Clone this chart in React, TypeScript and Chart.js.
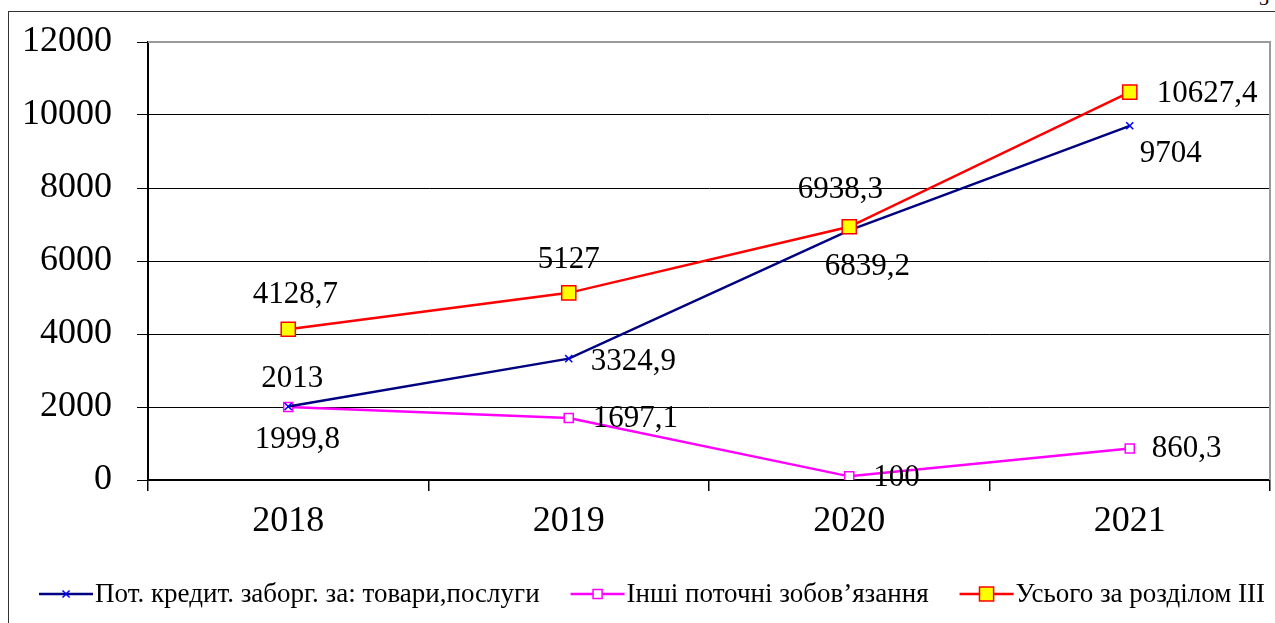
import React, { useEffect, useRef } from 'react';
import { Chart, registerables } from 'chart.js';

Chart.register(...registerables);

const categories = ['2018', '2019', '2020', '2021'];
const tradePayables = [2013, 3324.9, 6839.2, 9704];
const otherLiabilities = [1999.8, 1697.1, 100, 860.3];
const totalSection3 = [4128.7, 5127, 6938.3, 10627.4];
const yMin = 0;
const yMax = 12000;
const yStep = 2000;
const seriesNames = [
  'Пот. кредит. заборг. за: товари,послуги',
  'Інші поточні зобов’язання',
  'Усього за розділом ІІІ',
];

const FONT = "'Liberation Serif', 'Times New Roman', serif";

// label placement: [textAlign, dx, dy] relative to the point
const placeBlue = [['center', 4, -28], ['left', 22, 3], ['center', 18, 36], ['left', 10, 28]];
const placeMagenta = [['center', 9, 33], ['left', 24, 1], ['left', 24, 2], ['left', 22, 0]];
const placeRed = [['center', 7, -34], ['center', 0, -33], ['center', -9, -37], ['left', 27, 2]];

const fmt = (v: number) => String(v).replace('.', ',');

const dataLabelsPlugin = {
  id: 'dataLabels',
  afterDatasetsDraw(chart: any) {
    const ctx = chart.ctx;
    ctx.save();
    ctx.font = `31px ${FONT}`;
    ctx.fillStyle = '#000';
    ctx.textBaseline = 'middle';
    chart.data.datasets.forEach((ds: any, i: number) => {
      const meta = chart.getDatasetMeta(i);
      meta.data.forEach((pt: any, j: number) => {
        const p = ds.labelPlacement[j];
        ctx.textAlign = p[0];
        ctx.fillText(fmt(ds.data[j]), pt.x + p[1], pt.y + p[2]);
      });
    });
    ctx.restore();
  },
};

const framePlugin = {
  id: 'frame',
  beforeDatasetsDraw(chart: any) {
    const { ctx, chartArea } = chart;
    ctx.save();
    ctx.strokeStyle = '#9a9a9a';
    ctx.lineWidth = 2;
    ctx.beginPath();
    ctx.moveTo(chartArea.left, chartArea.top);
    ctx.lineTo(chartArea.right, chartArea.top);
    ctx.lineTo(chartArea.right, chartArea.bottom);
    ctx.stroke();
    ctx.restore();
  },
};

function drawMarker(ctx: CanvasRenderingContext2D, ds: any, x: number, y: number) {
  ctx.save();
  ctx.lineWidth = ds.pointBorderWidth;
  ctx.strokeStyle = ds.pointBorderColor;
  ctx.fillStyle = ds.pointBackgroundColor;
  if (ds.pointStyle === 'crossRot') {
    const o = ds.pointRadius * Math.SQRT1_2;
    ctx.beginPath();
    ctx.moveTo(x - o, y - o);
    ctx.lineTo(x + o, y + o);
    ctx.moveTo(x + o, y - o);
    ctx.lineTo(x - o, y + o);
    ctx.stroke();
  } else {
    const s = ds.pointRadius * Math.SQRT1_2;
    ctx.beginPath();
    ctx.rect(x - s, y - s, 2 * s, 2 * s);
    ctx.fill();
    ctx.stroke();
  }
  ctx.restore();
}

const legendPlugin = {
  id: 'customLegend',
  afterDraw(chart: any) {
    const ctx = chart.ctx;
    ctx.save();
    ctx.font = `27px ${FONT}`;
    ctx.textBaseline = 'middle';
    ctx.textAlign = 'left';
    const lineLen = 54;
    const textGap = 2;
    const itemGap = 31;
    const items = [0, 1, 2].map((k) => {
      const ds = chart.data.datasets.find((d: any) => d.legendIndex === k);
      return { ds, w: ctx.measureText(ds.label).width };
    });
    const total = items.reduce((a: number, it: any) => a + lineLen + textGap + it.w, 0) + itemGap * (items.length - 1);
    let x = 652 - total / 2;
    const y = 594;
    items.forEach((it: any) => {
      ctx.strokeStyle = it.ds.borderColor;
      ctx.lineWidth = it.ds.borderWidth;
      ctx.beginPath();
      ctx.moveTo(x, y);
      ctx.lineTo(x + lineLen, y);
      ctx.stroke();
      drawMarker(ctx, it.ds, x + lineLen / 2, y);
      ctx.font = `27px ${FONT}`;
      ctx.fillStyle = '#000';
      ctx.fillText(it.ds.label, x + lineLen + textGap, y + 1);
      x += lineLen + textGap + it.w + itemGap;
    });
    ctx.restore();
  },
};

export default function App() {
  const canvasRef = useRef<HTMLCanvasElement | null>(null);

  useEffect(() => {
    const canvas = canvasRef.current;
    if (!canvas) return;
    const chart = new Chart(canvas, {
      type: 'line',
      data: {
        labels: categories,
        datasets: [
          {
            label: seriesNames[2],
            legendIndex: 2,
            data: totalSection3,
            borderColor: '#ff0000',
            borderWidth: 2.5,
            pointStyle: 'rect',
            pointRadius: 10,
            pointHoverRadius: 10,
            pointBackgroundColor: '#ffff00',
            pointBorderColor: '#ff0000',
            pointBorderWidth: 1.5,
            tension: 0,
            order: 0,
            labelPlacement: placeRed,
          } as any,
          {
            label: seriesNames[0],
            legendIndex: 0,
            data: tradePayables,
            borderColor: '#000080',
            borderWidth: 2.5,
            pointStyle: 'crossRot',
            pointRadius: 5,
            pointHoverRadius: 5,
            pointBackgroundColor: '#0000ff',
            pointBorderColor: '#0000ff',
            pointBorderWidth: 1.5,
            tension: 0,
            order: 1,
            labelPlacement: placeBlue,
          } as any,
          {
            label: seriesNames[1],
            legendIndex: 1,
            data: otherLiabilities,
            borderColor: '#ff00ff',
            borderWidth: 2.5,
            pointStyle: 'rect',
            pointRadius: 6.4,
            pointHoverRadius: 6.4,
            pointBackgroundColor: '#ffffff',
            pointBorderColor: '#ff00ff',
            pointBorderWidth: 1.5,
            tension: 0,
            order: 2,
            labelPlacement: placeMagenta,
          } as any,
        ],
      },
      options: {
        responsive: false,
        animation: false,
        events: [],
        layout: { autoPadding: false, padding: { top: 42, right: 5, left: 0, bottom: 0 } },
        plugins: {
          legend: { display: false },
          tooltip: { enabled: false },
        },
        scales: {
          x: {
            type: 'category',
            offset: true,
            grid: {
              offset: true,
              drawOnChartArea: false,
              drawTicks: true,
              tickLength: 11,
              color: '#000',
              lineWidth: 1.5,
            },
            border: { display: true, color: '#000', width: 2 },
            ticks: {
              font: { family: FONT, size: 36 },
              color: '#000',
              padding: 9,
              maxRotation: 0,
              autoSkip: false,
            },
            afterFit: (s: any) => {
              s.height = 143;
              s.paddingLeft = 0;
              s.paddingRight = 0;
              s.paddingTop = 0;
              s.paddingBottom = 0;
            },
          },
          y: {
            min: yMin,
            max: yMax,
            ticks: {
              stepSize: yStep,
              font: { family: FONT, size: 36 },
              color: '#000',
              padding: 25,
              callback: (v: any) => String(v),
            },
            grid: { color: '#000', lineWidth: 1, tickLength: 11 },
            border: { display: true, color: '#000', width: 2 },
            afterFit: (s: any) => {
              s.width = 148;
              s.paddingLeft = 0;
              s.paddingRight = 0;
              s.paddingTop = 0;
              s.paddingBottom = 0;
            },
          },
        },
      } as any,
      plugins: [framePlugin, dataLabelsPlugin, legendPlugin],
    });
    return () => chart.destroy();
  }, []);

  return (
    <div style={{ position: 'fixed', left: 0, top: 0, width: 1275, height: 623, overflow: 'hidden', background: '#fff' }}>
      <div
        style={{
          position: 'absolute',
          left: 8,
          top: 11,
          width: 1300,
          height: 700,
          borderLeft: '1px solid #333',
          borderTop: '1px solid #333',
        }}
      />
      <div
        style={{
          position: 'absolute',
          left: 1259,
          top: -12,
          font: `20px ${FONT}`,
          lineHeight: '20px',
          color: '#000',
        }}
      >
        3
      </div>
      <canvas ref={canvasRef} width={1275} height={623} style={{ position: 'absolute', left: 0, top: 0 }} />
    </div>
  );
}
